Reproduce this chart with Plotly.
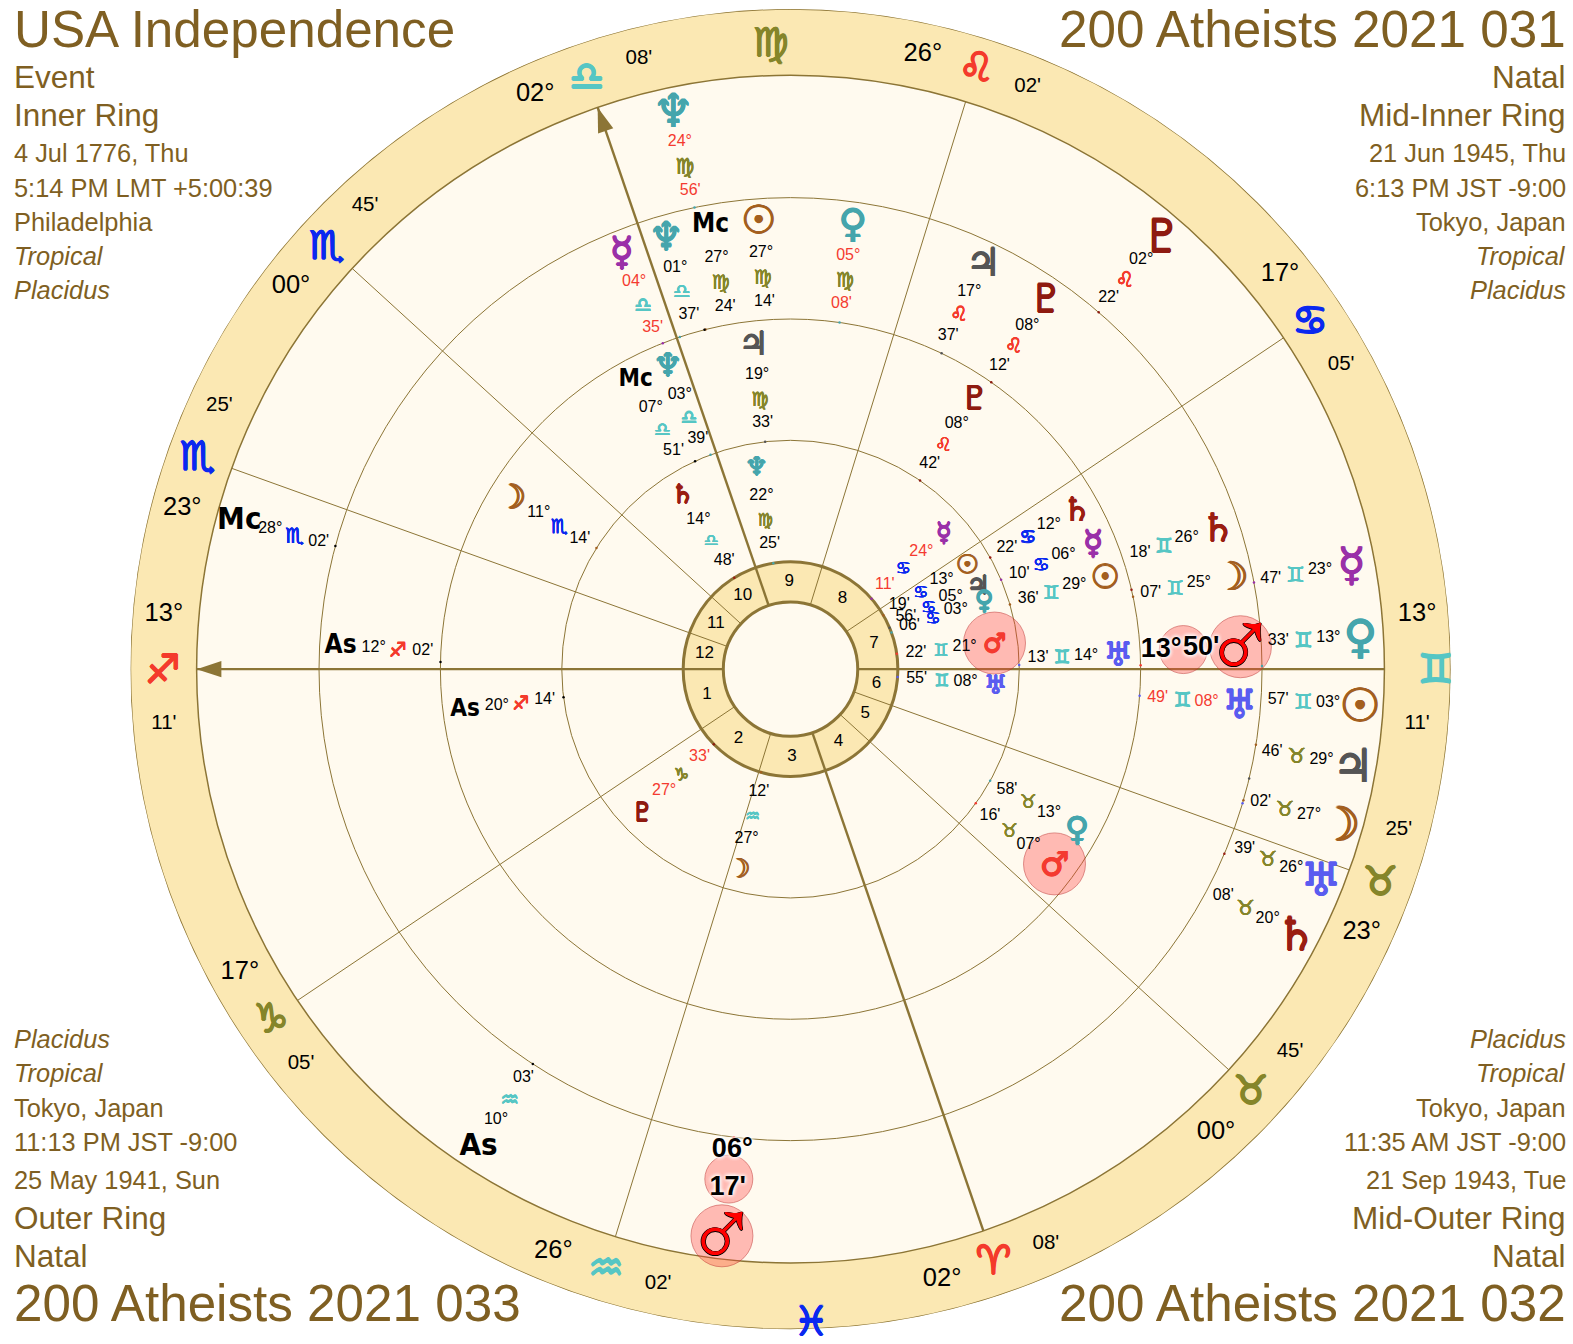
import math
import plotly.graph_objects as go

sign_names = ["Ari", "Tau", "Gem", "Can", "Leo", "Vir", "Lib", "Sco", "Sag", "Cap", "Aqu", "Pis"]
sign_chars = ["♈", "♉", "♊", "♋", "♌", "♍", "♎", "♏", "♐", "♑", "♒", "♓"]

planet_chars = {"Sun": "☉", "Moon": "☽", "Mercury": "☿", "Venus": "♀", "Mars": "♂", "Jupiter": "♃",
                "Saturn": "♄", "Uranus": "♅", "Neptune": "♆", "Pluto": "♇", "As": "As", "Mc": "Mc"}

# house cusps
cusp_signs = ["Sag", "Cap", "Aqu", "Ari", "Tau", "Tau", "Gem", "Can", "Leo", "Lib", "Sco", "Sco"]
cusp_degrees = [13, 17, 26, 2, 0, 23, 13, 17, 26, 2, 0, 23]
cusp_minutes = [11, 5, 2, 8, 45, 25, 11, 5, 2, 8, 45, 25]
house_numbers = ["1", "2", "3", "4", "5", "6", "7", "8", "9", "10", "11", "12"]
intercepted_signs = ["Vir", "Pis"]

# inner ring, USA Independence
ring1_names = ["Neptune", "Saturn", "Mercury", "Sun", "Jupiter", "Venus", "Mars", "Uranus", "Moon", "Pluto"]
ring1_signs = ["Vir", "Lib", "Can", "Can", "Can", "Can", "Gem", "Gem", "Aqu", "Cap"]
ring1_degrees = [22, 14, 24, 13, 5, 3, 21, 8, 27, 27]
ring1_minutes = [25, 48, 11, 19, 56, 6, 22, 55, 12, 33]
ring1_retro = ["Mercury", "Pluto"]

# mid-inner ring, 031
ring2_names = ["Saturn", "Mercury", "Sun", "Uranus", "Venus", "Mars", "Jupiter", "Neptune", "Mc", "Moon", "As", "Pluto"]
ring2_signs = ["Can", "Can", "Gem", "Gem", "Tau", "Tau", "Vir", "Lib", "Lib", "Sco", "Sag", "Leo"]
ring2_degrees = [12, 6, 29, 14, 13, 7, 19, 3, 7, 11, 20, 8]
ring2_minutes = [22, 10, 36, 13, 58, 16, 33, 39, 51, 14, 14, 42]
ring2_retro = []

# mid-outer ring, 032
ring3_names = ["Saturn", "Moon", "Mars", "Uranus", "Pluto", "Jupiter", "Sun", "Mc", "Neptune", "Mercury", "Venus", "As"]
ring3_signs = ["Gem", "Gem", "Gem", "Gem", "Leo", "Leo", "Vir", "Vir", "Lib", "Lib", "Vir", "Sag"]
ring3_degrees = [26, 25, 13, 8, 8, 17, 27, 27, 1, 4, 5, 12]
ring3_minutes = [18, 7, 50, 49, 12, 37, 14, 24, 37, 35, 8, 2]
ring3_retro = ["Uranus", "Mercury", "Venus"]

# outer ring, 033
ring4_names = ["Mercury", "Venus", "Sun", "Jupiter", "Moon", "Uranus", "Saturn", "Mars", "Neptune", "Pluto", "Mc", "As"]
ring4_signs = ["Gem", "Gem", "Gem", "Tau", "Tau", "Tau", "Tau", "Pis", "Vir", "Leo", "Sco", "Aqu"]
ring4_degrees = [23, 13, 3, 29, 27, 26, 20, 6, 24, 2, 28, 10]
ring4_minutes = [47, 33, 57, 46, 2, 39, 8, 17, 56, 22, 2, 3]
ring4_retro = ["Neptune"]

# corner captions
top_left = ["USA Independence", "Event", "Inner Ring", "4 Jul 1776, Thu", "5:14 PM LMT +5:00:39", "Philadelphia", "<i>Tropical</i>", "<i>Placidus</i>"]
top_right = ["200 Atheists 2021 031", "Natal", "Mid-Inner Ring", "21 Jun 1945, Thu", "6:13 PM JST -9:00", "Tokyo, Japan", "<i>Tropical</i>", "<i>Placidus</i>"]
bottom_left = ["<i>Placidus</i>", "<i>Tropical</i>", "Tokyo, Japan", "11:13 PM JST -9:00", "25 May 1941, Sun", "Outer Ring", "Natal", "200 Atheists 2021 033"]
bottom_right = ["<i>Placidus</i>", "<i>Tropical</i>", "Tokyo, Japan", "11:35 AM JST -9:00", "21 Sep 1943, Tue", "Mid-Outer Ring", "Natal", "200 Atheists 2021 032"]

# styling and layout below here
W, H = 1573, 1344
F = 1.0032  # my pixel readings came out a touch small
CX, CY, R = 788, 667, 658
BROWN = "#7F5F22"
LINE = "#8C7536"
GOLD = "#FBE8B3"
CREAM = "#FFFAEF"
RED = "#F43A30"
FONT = "Liberation Sans"
SYMBOL = "DejaVu Sans"
NARROW = "DejaVu Sans Condensed"

planet_colors = {"Sun": "#A35F1F", "Moon": "#A35F1F", "Mercury": "#9A30A8", "Venus": "#45A5AC", "Mars": RED,
                 "Jupiter": "#555555", "Saturn": "#9A1D12", "Uranus": "#5A5CF0", "Neptune": "#45A5AC",
                 "Pluto": "#8E1A10", "As": "#000000", "Mc": "#000000"}
fire, earth, air, water = "#F43A2B", "#85852A", "#56C6C4", "#0A28F0"
sign_colors = [fire, earth, air, water] * 3

# how far each glyph is pushed off its true degree so that it does not collide
ring1_shift = [0.3, 0, 0.8, 0.5, 1.4, -0.2, -0.9, 0, 1.5, -0.4]
ring2_shift = [0, -0.3, 0, 1.6, 0.1, -0.5, 0.1, 1.5, 3.5, 0.2, 0.1, 0.3]
ring3_shift = [5.2, 0, 2.2, -0.1, 0.4, 0.2, -10, -4, -2.4, 0.6, 0.1, -1.7]
ring4_shift = [0, 2.9, 5.6, 3.7, 0.4, -5.1, -4.6, 0, 0.1, 0.2, 0.1, 0]


def lon(sign, deg, minute):
    return sign_names.index(sign) * 30 + deg + minute / 60


asc = lon(cusp_signs[0], cusp_degrees[0], cusp_minutes[0])
cusps = [lon(s, d, m) for s, d, m in zip(cusp_signs, cusp_degrees, cusp_minutes)]

fig = go.Figure()

# wheel discs, biggest first
for radius, fill, width in [(658, GOLD, 1.5), (592, CREAM, 1.5), (470, CREAM, 1), (349, CREAM, 1),
                            (228, CREAM, 1), (107, GOLD, 3), (67, CREAM, 3)]:
    fig.add_trace(go.Barpolar(r=[radius], theta=[0], width=[360], base=[0],
                              marker=dict(color=fill, line=dict(color=LINE, width=width)),
                              hoverinfo="skip", showlegend=False))


def down(r, theta, px):
    # the symbol font sits high in its box, so move a point straight down on the page
    a = math.radians(180 + theta - asc)
    x, y = r * math.cos(a), r * math.sin(a) - px
    return math.hypot(x, y), math.degrees(math.atan2(y, x)) - 180 + asc


def text_trace(r, theta, text, size, color, family=FONT, weight="normal", shadow="none"):
    fig.add_trace(go.Scatterpolar(r=r, theta=theta, text=text, mode="text", textposition="middle center",
                                  textfont=dict(size=size, color=color, family=family, weight=weight, shadow=shadow),
                                  cliponaxis=False, hoverinfo="skip", showlegend=False))


def glyph(r, theta, char, size, color, heavy=0.7):
    r2, t2 = down(r, theta, 0.1 * size)
    s = f"{heavy}px 0 0 {color}, -{heavy}px 0 0 {color}, 0 {heavy}px 0 {color}, 0 -{heavy}px 0 {color}"
    text_trace([r2], [t2], [char], size, color, SYMBOL, "normal", s)


# house cusps, the angles are heavier
for i, c in enumerate(cusps):
    heavy = i in (0, 3, 6, 9)
    fig.add_trace(go.Scatterpolar(r=[67, 592], theta=[c, c], mode="lines",
                                  line=dict(color=LINE, width=2.4 if heavy else 1),
                                  cliponaxis=False, hoverinfo="skip", showlegend=False))

# arrows on As and Mc
arrow_idx = [0, 9]
fig.add_trace(go.Scatterpolar(r=[592 for _ in arrow_idx], theta=[cusps[i] for i in arrow_idx], mode="markers",
                              marker=dict(symbol="arrow", size=26, color=LINE, line_width=0,
                                          angle=[90 - (180 + cusps[i] - asc) for i in arrow_idx]),
                              cliponaxis=False, hoverinfo="skip", showlegend=False))

# house numbers in the middle of each house
mids = []
for i in range(12):
    a, b = cusps[i], cusps[(i + 1) % 12]
    mids.append(a + ((b - a) % 360) / 2)
text_trace([87] * 12, mids, house_numbers, 17, "#000000")

# cusp labels on the zodiac band
sign_r = [626, 624, 624, 623, 622, 625, 643, 624, 628, 625, 626, 628]
deg_side = [-5, -5, -5, -5, -5, -5, 5, 5, 5, 5, 5, 5]
for r, c, s in zip(sign_r, cusps, cusp_signs):
    k = sign_names.index(s)
    glyph(r, c, sign_chars[k], 40, sign_colors[k], 0.8)
text_trace([627] * 12, [c + s for c, s in zip(cusps, deg_side)],
           ["%02d°" % d for d in cusp_degrees], 25.5, "#000000")
text_trace([627] * 12, [c - s for c, s in zip(cusps, deg_side)],
           ["%02d'" % m for m in cusp_minutes], 20.5, "#000000")
for r, s in zip([625, 650], intercepted_signs):
    k = sign_names.index(s)
    glyph(r, lon(s, 15, 0), sign_chars[k], 40, sign_colors[k], 0.8)

rings = [
    (ring1_names, ring1_signs, ring1_degrees, ring1_minutes, ring1_retro, ring1_shift, 205, 175, 151, 126, 107, 26, 17, 0),
    (ring2_names, ring2_signs, ring2_degrees, ring2_minutes, ring2_retro, ring2_shift, 327, 295, 271, 247, 228, 33, 19, 24),
    (ring3_names, ring3_signs, ring3_degrees, ring3_minutes, ring3_retro, ring3_shift, 449, 416, 392, 367, 349, 39, 20, 26),
    (ring4_names, ring4_signs, ring4_degrees, ring4_minutes, ring4_retro, ring4_shift, 569, 537, 512, 487, 470, 46, 21, 31),
]

# big labels on the Mars of the two outer rings: degree radius, minute radius
big_mars = {2: (370, 410), 3: (483, 521)}

for idx, (names, signs, degrees, minutes, retro, shift, g_r, d_r, s_r, m_r, in_r, g_size, s_size, a_size) in enumerate(rings):
    true_lon = [lon(s, d, m) for s, d, m in zip(signs, degrees, minutes)]
    shown = [t + s for t, s in zip(true_lon, shift)]

    # small ticks on the ring line at the true position
    fig.add_trace(go.Scatterpolar(r=[in_r] * len(names), theta=true_lon, mode="markers",
                                  marker=dict(size=2.5, color=[planet_colors[n] for n in names]),
                                  cliponaxis=False, hoverinfo="skip", showlegend=False))

    # pink discs behind Mars
    m = names.index("Mars")
    disc_r, disc_t, disc_s = [g_r], [shown[m]], [62]
    if idx in big_mars:
        disc_r.append(s_r)
        disc_t.append(shown[m])
        disc_s.append(48)
    fig.add_trace(go.Scatterpolar(r=disc_r, theta=disc_t, mode="markers",
                                  marker=dict(size=disc_s, color="rgba(255,60,60,0.48)",
                                              line=dict(color="rgba(190,40,40,0.7)", width=1)),
                                  cliponaxis=False, hoverinfo="skip", showlegend=False))

    li = [i for i, n in enumerate(names) if not (n == "Mars" and idx in big_mars)]

    for i in li:
        if names[i] in ("As", "Mc"):
            text_trace([g_r], [shown[i]], [planet_chars[names[i]]], a_size, "#000000", NARROW, "bold")
        else:
            glyph(g_r, shown[i], planet_chars[names[i]], g_size, planet_colors[names[i]])

    label_colors = [RED if names[i] in retro else "#000000" for i in li]
    text_trace([d_r] * len(li), [shown[i] for i in li], ["%02d°" % degrees[i] for i in li], 16, label_colors)
    for i in li:
        k = sign_names.index(signs[i])
        glyph(s_r, shown[i], sign_chars[k], s_size, sign_colors[k], 0.3)
    text_trace([m_r] * len(li), [shown[i] for i in li], ["%02d'" % minutes[i] for i in li], 16, label_colors)

    if idx in big_mars:
        halo = "0 0 4px #fff, 0 0 4px #fff, 0 0 4px #fff"
        text_trace([big_mars[idx][0]], [shown[m]], ["%02d°" % degrees[m]], 27, "#000000", FONT, "bold", halo)
        text_trace([big_mars[idx][1]], [shown[m]], ["%02d'" % minutes[m]], 27, "#000000", FONT, "bold", halo)
        r2, t2 = down(g_r, shown[m], 7)
        text_trace([r2], [t2], ["♂"], 98, "#FF0000", "Liberation Serif", "normal",
                   "0.7px 0 0 #000, -0.7px 0 0 #000, 0 0.7px 0 #000, 0 -0.7px 0 #000")

# captions
top_y = [29, 77, 115, 153, 187, 221, 255, 289]
bottom_y = [1036, 1070, 1104, 1138, 1176, 1214, 1252, 1299]
top_sizes = [51.2, 31.5, 31.5, 25.4, 25.4, 25.4, 25.4, 25.4]
bottom_sizes = [25.4, 25.4, 25.4, 25.4, 25.4, 31.5, 31.5, 51.2]
for lines, ys, sizes, x, anchor in [(top_left, top_y, top_sizes, 14, "left"), (top_right, top_y, top_sizes, 1561, "right"),
                                    (bottom_left, bottom_y, bottom_sizes, 14, "left"), (bottom_right, bottom_y, bottom_sizes, 1561, "right")]:
    for line, y, size in zip(lines, ys, sizes):
        fig.add_annotation(text=line, x=x * F / W, y=1 - y * F / H, xref="paper", yref="paper", xanchor=anchor, yanchor="middle",
                           showarrow=False, font=dict(family=FONT, size=size, color=BROWN), borderpad=0, borderwidth=0)

fig.update_layout(
    width=W, height=H, margin=dict(l=0, r=0, t=0, b=0), paper_bgcolor="white", showlegend=False,
    polar=dict(
        domain=dict(x=[(CX - R) * F / W, (CX + R) * F / W], y=[1 - (CY + R) * F / H, 1 - (CY - R) * F / H]),
        bgcolor="rgba(0,0,0,0)", barmode="overlay",
        radialaxis=dict(range=[0, R], visible=False),
        angularaxis=dict(visible=False, direction="counterclockwise", rotation=180 - asc, thetaunit="degrees"),
    ),
)

fig.write_html("out.html", config={"displayModeBar": False},
               post_script="document.body.style.margin='0';document.documentElement.style.overflow='hidden';")
